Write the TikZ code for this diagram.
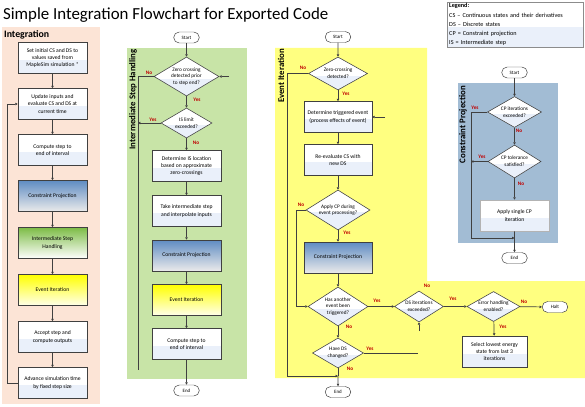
\documentclass[tikz,border=0pt]{standalone}
\usepackage{fontspec}
\setmainfont{Carlito}
\usetikzlibrary{shapes.geometric,shapes.misc,arrows.meta}

\definecolor{peach}{RGB}{252,228,214}
\definecolor{ishgreen}{RGB}{200,228,167}
\definecolor{eiyellow}{RGB}{255,255,128}
\definecolor{cpsteel}{RGB}{162,188,212}
\definecolor{paleblue}{RGB}{234,240,250}
\definecolor{linegray}{RGB}{64,64,64}
\definecolor{ansred}{RGB}{192,0,0}
\definecolor{cptop}{RGB}{95,140,195}
\definecolor{ishtop}{RGB}{125,188,70}

\newcommand{\boxfont}{\fontsize{8}{10.5}\selectfont}

\tikzset{
  plain/.style={rectangle, draw=linegray, line width=0.8pt, minimum width=3.45cm,
    minimum height=1.55cm, inner sep=1pt, align=center, font=\boxfont},
  box/.style={plain, fill=white, path picture={\fill[paleblue]
    (path picture bounding box.south west) rectangle ([yshift=-3pt]path picture bounding box.east);}},
  cpbox/.style={plain, top color=cptop, bottom color=black!8},
  ishbox/.style={plain, top color=ishtop, bottom color=white},
  eibox/.style={plain, top color=yellow, bottom color=yellow!8},
  decide/.style={diamond, draw=linegray, line width=0.8pt, fill=white, inner sep=0pt,
    path picture={\fill[paleblue]
    (path picture bounding box.south west) rectangle ([yshift=-3pt]path picture bounding box.east);}},
  dtext/.style={align=center, font=\fontsize{7.5}{9.5}\selectfont, inner sep=0pt},
  term/.style={rounded rectangle, draw=linegray, line width=0.7pt, fill=white,
    minimum width=1.35cm, minimum height=0.55cm, inner sep=1pt, font=\fontsize{7}{8}\selectfont},
  arr/.style={draw=linegray, line width=1pt, -{Triangle[length=3.5pt,width=3.5pt]}},
  link/.style={draw=linegray, line width=1pt},
  ans/.style={text=ansred, font=\bfseries\fontsize{7.5}{8}\selectfont, inner sep=0pt},
  sectitle/.style={font=\bfseries\fontsize{12.5}{14}\selectfont, inner sep=0pt}
}

\begin{document}
\begin{tikzpicture}[x=0.05cm, y=-0.05cm]
  \useasboundingbox (0,0) rectangle (585,407);

  % Background regions
  \fill[peach] (2,27) rectangle (100,404);
  \fill[ishgreen] (127,48) rectangle (247,379);
  \fill[eiyellow] (275,48) -- (427,48) -- (427,281) -- (585,281) -- (585,378) -- (275,378) -- cycle;
  \fill[cpsteel] (458,83) rectangle (558,243);

  % Title and legend
  \node[font=\fontsize{24}{28}\selectfont, anchor=west, inner sep=0pt] (title) at (3,15)
    {Simple Integration Flowchart for Exported Code};
  \node[rectangle, draw=linegray!60, line width=0.6pt, fill=white, anchor=north west,
    minimum width=6.8cm, text width=6.6cm, align=left, inner sep=2pt,
    font=\fontsize{8.8}{13}\selectfont,
    path picture={\fill[paleblue] (path picture bounding box.south west)
      rectangle ([yshift=-4pt]path picture bounding box.east);}] (legend) at (447,2)
    {\textbf{Legend:}\\
     CS -- Continuous states and their derivatives\\
     DS -- Discrete states\\
     CP = Constraint projection\\
     IS = Intermediate step};

  % Section titles
  \node[sectitle, font=\bfseries\fontsize{14}{16}\selectfont, anchor=west] (inttitle) at (4,35) {Integration};
  \node[sectitle, rotate=90, anchor=east] (ishtitle) at (133,49) {Intermediate Step Handling};
  \node[sectitle, rotate=90, anchor=east] (eititle) at (281,49) {Event Iteration};
  \node[sectitle, rotate=90, anchor=east] (cptitle) at (463,86) {Constraint Projection};

  % Integration column
  \node[box] (init) at (52.5,58) {Set initial CS and DS to\\values saved from\\MapleSim simulation *};
  \node[box] (update) at (52.5,104) {Update inputs and\\evaluate CS and DS at\\current time};
  \node[box] (intcomp) at (52.5,150) {Compute step to\\end of interval};
  \node[cpbox] (intcp) at (52.5,196) {Constraint Projection};
  \node[ishbox] (intish) at (52.5,243) {Intermediate Step\\Handling};
  \node[eibox] (intei) at (52.5,290) {Event Iteration};
  \node[box] (accept) at (52.5,337) {Accept step and\\compute outputs};
  \node[box] (advance) at (52.5,383) {Advance simulation time\\by fixed step size};

  \draw[arr] (init) -- (update);
  \draw[arr] (update) -- (intcomp);
  \draw[arr] (intcomp) -- (intcp);
  \draw[arr] (intcp) -- (intish);
  \draw[arr] (intish) -- (intei);
  \draw[arr] (intei) -- (accept);
  \draw[arr] (accept) -- (advance);
  \draw[arr] (advance.west) -- ++(-10,0) |- (update.west);

  % Intermediate step handling
  \node[term] (ishstart) at (186.5,37.5) {Start};
  \node[decide, minimum width=3.25cm, minimum height=1.95cm,
    label={[dtext]center:{Zero crossing\\detected prior\\to step end?}}] (zcprior) at (186.5,76.5) {};
  \node[decide, minimum width=2.55cm, minimum height=1.5cm,
    label={[dtext]center:{IS limit\\exceeded?}}] (islimit) at (186.5,123) {};
  \node[box] (islocate) at (186.5,166) {Determine IS location\\based on approximate\\zero-crossings};
  \node[box] (isstep) at (186.5,211) {Take intermediate step\\and interpolate inputs};
  \node[cpbox] (iscp) at (186.5,255.5) {Constraint Projection};
  \node[eibox] (isei) at (186.5,300) {Event Iteration};
  \node[box] (iscomp) at (186.5,344) {Compute step to\\end of interval};
  \node[term] (ishend) at (186.5,390.5) {End};
  \coordinate (israil) at (138,370);
  \coordinate (isback) at (229,76.5);

  \draw[arr] (ishstart) -- (zcprior);
  \draw[arr] (zcprior) -- (islimit);
  \draw[arr] (islimit) -- (islocate);
  \draw[arr] (islocate) -- (isstep);
  \draw[arr] (isstep) -- (iscp);
  \draw[arr] (iscp) -- (isei);
  \draw[arr] (isei) -- (iscomp);
  \draw[arr] (iscomp) -- (ishend);
  \draw[link] (zcprior.west) -| (israil);
  \draw[arr] (islimit.west) -- (islimit.west -| israil);
  \draw[arr] (isback) -- (zcprior.east);
  \node[ans] at (149,73) {No};
  \node[ans] at (197,100) {Yes};
  \node[ans] at (153,120) {Yes};
  \node[ans] at (196,143) {No};

  % Event iteration
  \node[term] (eistart) at (338,37) {Start};
  \node[decide, minimum width=2.95cm, minimum height=1.65cm,
    label={[dtext]center:{Zero-crossing\\detected?}}] (zcdetect) at (338,73.5) {};
  \node[box, minimum width=3.4cm] (trigger) at (338,117) {Determine triggered event\\(process effects of event)};
  \node[box, minimum width=3.4cm] (reeval) at (338,160) {Re-evaluate CS with\\new DS};
  \node[decide, minimum width=3.2cm, minimum height=2cm,
    label={[dtext]center:{Apply CP during\\event processing?}}] (applycp) at (338,210) {};
  \node[cpbox, minimum width=3.4cm] (eicp) at (338,257.5) {Constraint Projection};
  \node[decide, minimum width=3cm, minimum height=1.95cm,
    label={[dtext]center:{Has another\\event been\\triggered?}}] (another) at (338,306.5) {};
  \node[decide, minimum width=2.45cm, minimum height=1.55cm,
    label={[dtext]center:{DS iterations\\exceeded?}}] (dsiter) at (419,306.5) {};
  \node[decide, minimum width=2.65cm, minimum height=1.5cm,
    label={[dtext]center:{Error handling\\enabled?}}] (errhand) at (493.5,306.5) {};
  \node[term] (halt) at (555,307) {Halt};
  \node[box, minimum width=3.25cm] (lowest) at (494.5,351.5) {Select lowest energy\\state from last 3\\iterations};
  \node[decide, minimum width=2.55cm, minimum height=1.5cm,
    label={[dtext]center:{Have DS\\changed?}}] (dschanged) at (338,353) {};
  \node[term] (eiend) at (338,392) {End};
  \coordinate (eirail) at (287,376);
  \coordinate (eijoin) at (338,376);
  \coordinate (eiback) at (385,117);
  \coordinate (dsright) at (418,353);
  \coordinate (dsup) at (419,331);

  \draw[arr] (eistart) -- (zcdetect);
  \draw[arr] (zcdetect) -- (trigger);
  \draw[arr] (trigger) -- (reeval);
  \draw[arr] (reeval) -- (applycp);
  \draw[arr] (applycp) -- (eicp);
  \draw[arr] (eicp) -- (another);
  \draw[arr] (another) -- (dschanged);
  \draw[arr] (another) -- (dsiter);
  \draw[arr] (dsiter) -- (errhand);
  \draw[arr] (errhand) -- (halt);
  \draw[arr] (errhand) -- (lowest);
  \draw[link] (zcdetect.west) -| (eirail);
  \draw[arr] (eirail) -- (eijoin);
  \draw[link] (dschanged.south) -- (eijoin);
  \draw[arr] (eijoin) -- (eiend);
  \draw[arr] (applycp.west) -- ++(-9,0) |- (another.west);
  \draw[link] (dschanged.east) -- (dsright);
  \draw[arr] (dsup) -- (dsiter.south);
  \draw[arr] (eiback) -- (trigger.east);
  \node[ans] at (303,68) {No};
  \node[ans] at (346,94) {Yes};
  \node[ans] at (301,205) {No};
  \node[ans] at (347,233) {Yes};
  \node[ans] at (377,301) {Yes};
  \node[ans] at (349,327) {No};
  \node[ans] at (427,286) {No};
  \node[ans] at (453,299) {Yes};
  \node[ans] at (524,302) {No};
  \node[ans] at (503,327) {Yes};
  \node[ans] at (370,349) {Yes};
  \node[ans] at (350,369) {No};

  % Constraint projection
  \node[term] (cpstart) at (514.5,72.5) {Start};
  \node[decide, minimum width=2.7cm, minimum height=1.55cm,
    label={[dtext]center:{CP iterations\\exceeded?}}] (cpiter) at (514.5,112) {};
  \node[decide, minimum width=2.65cm, minimum height=1.65cm,
    label={[dtext]center:{CP tolerance\\satisfied?}}] (cptol) at (514.5,161.5) {};
  \node[box, draw=linegray!40] (cpapply) at (514.5,215.5) {Apply single CP\\iteration};
  \node[term] (cpend) at (514.5,258) {End};
  \coordinate (cprail) at (471,238);
  \coordinate (cpjoin) at (514.5,238);

  \draw[arr] (cpstart) -- (cpiter);
  \draw[arr] (cpiter) -- (cptol);
  \draw[arr] (cptol) -- (cpapply);
  \draw[arr] (cpapply) -- (cpend);
  \draw[link] (cpiter.west) -| (cprail);
  \draw[arr] (cprail) -- (cpjoin);
  \draw[arr] (cptol.west) -- (cptol.west -| cprail);
  \node[ans] at (475,108) {Yes};
  \node[ans] at (519,131) {No};
  \node[ans] at (482,157) {Yes};
  \node[ans] at (521,184) {No};
\end{tikzpicture}
\end{document}
